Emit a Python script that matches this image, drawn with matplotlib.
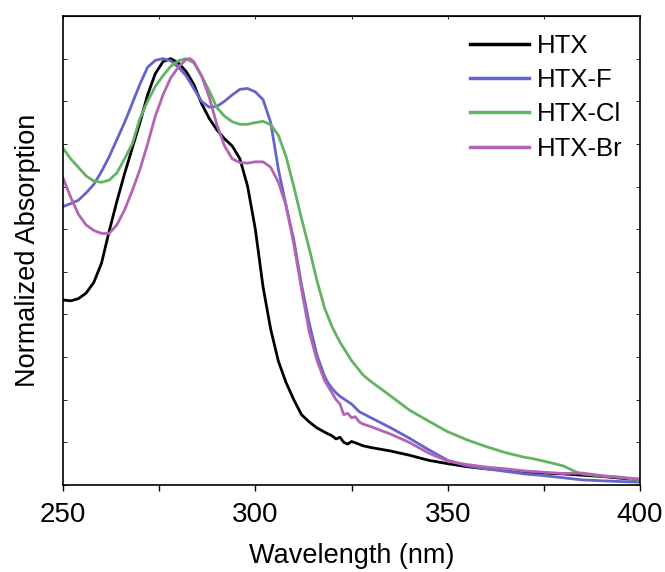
import matplotlib
matplotlib.use("Agg")
import matplotlib.pyplot as plt
import numpy as np

plt.rcParams['font.family'] = ['Liberation Sans', 'DejaVu Sans']

# ---- data (wavelength nm, normalized absorption) ----
htx_wl = [250, 252, 254, 256, 258, 260, 262, 264, 266, 268, 270, 272, 274, 276, 278, 280,
          282, 284, 286, 288, 290, 292, 294, 296, 298, 300, 302, 304, 306, 308, 310, 312,
          314, 316, 318, 320, 321, 322, 323, 324, 325, 326, 328, 330, 335, 340, 345, 350,
          355, 360, 365, 370, 375, 380, 385, 390, 395, 400]
htx_abs = [0.434, 0.432, 0.437, 0.45, 0.475, 0.52, 0.595, 0.665, 0.73, 0.79, 0.85, 0.915, 0.965, 0.993, 1.0, 0.99,
           0.97, 0.94, 0.895, 0.86, 0.833, 0.812, 0.795, 0.765, 0.70, 0.60, 0.465, 0.365, 0.29, 0.24, 0.20, 0.165,
           0.148, 0.134, 0.124, 0.115, 0.108, 0.112, 0.10, 0.096, 0.102, 0.099, 0.092, 0.088, 0.08, 0.07, 0.058, 0.05,
           0.043, 0.038, 0.035, 0.030, 0.028, 0.026, 0.023, 0.020, 0.016, 0.012]

f_wl = [250, 252, 254, 256, 258, 260, 262, 264, 266, 268, 270, 272, 274, 276, 278, 280,
        282, 284, 286, 288, 290, 292, 294, 296, 298, 300, 302, 304, 306, 308, 310, 312,
        314, 316, 318, 319, 320, 321, 322, 325, 327, 330, 335, 340, 345, 350, 355, 360, 365, 370, 375,
        380, 385, 390, 395, 400]
f_abs = [0.653, 0.66, 0.668, 0.685, 0.705, 0.735, 0.77, 0.81, 0.85, 0.895, 0.94, 0.98, 0.996, 1.0, 0.995, 0.98,
         0.96, 0.93, 0.90, 0.886, 0.888, 0.90, 0.915, 0.928, 0.93, 0.922, 0.904, 0.85, 0.74, 0.655, 0.575, 0.47,
         0.38, 0.305, 0.255, 0.238, 0.226, 0.216, 0.208, 0.19, 0.172, 0.158, 0.135, 0.11, 0.083, 0.058, 0.045, 0.038,
         0.032, 0.026, 0.022, 0.017, 0.012, 0.010, 0.008, 0.007]

cl_wl = [250, 252, 254, 256, 258, 260, 262, 264, 266, 268, 270, 272, 274, 276, 278, 280,
         282, 284, 286, 288, 290, 292, 294, 296, 298, 300, 302, 304, 306, 308, 310, 312,
         314, 316, 318, 320, 322, 325, 328, 330, 335, 340, 345, 350, 355, 360, 365, 370,
         372, 375, 380, 383, 385, 390, 395, 400]
cl_abs = [0.79, 0.765, 0.745, 0.725, 0.713, 0.71, 0.715, 0.732, 0.765, 0.80, 0.86, 0.90, 0.935, 0.96, 0.982, 0.995,
          1.0, 0.99, 0.96, 0.925, 0.885, 0.865, 0.852, 0.846, 0.846, 0.85, 0.853, 0.845, 0.82, 0.77, 0.70, 0.625,
          0.555, 0.48, 0.415, 0.37, 0.335, 0.292, 0.258, 0.243, 0.21, 0.176, 0.15, 0.125, 0.106, 0.09, 0.076, 0.065,
          0.062, 0.056, 0.045, 0.032, 0.026, 0.021, 0.018, 0.012]

br_wl = [250, 252, 254, 256, 258, 260, 262, 264, 266, 268, 270, 272, 274, 276, 278, 280,
         282, 283, 284, 286, 288, 290, 292, 294, 296, 298, 300, 302, 304, 306, 308, 310, 312,
         314, 316, 318, 320, 321, 322, 323, 324, 325, 326, 327, 328, 330, 335, 340, 345,
         350, 355, 360, 365, 370, 375, 380, 385, 390, 395, 400]
br_abs = [0.72, 0.675, 0.635, 0.61, 0.597, 0.59, 0.59, 0.61, 0.645, 0.69, 0.74, 0.80, 0.865, 0.915, 0.955, 0.98,
          0.998, 1.0, 0.993, 0.96, 0.91, 0.845, 0.795, 0.765, 0.756, 0.755, 0.758, 0.758, 0.745, 0.71, 0.655, 0.565, 0.46,
          0.36, 0.293, 0.245, 0.215, 0.20, 0.19, 0.165, 0.168, 0.158, 0.16, 0.148, 0.143, 0.137, 0.12, 0.10, 0.075,
          0.056, 0.048, 0.042, 0.038, 0.033, 0.030, 0.027, 0.028, 0.022, 0.018, 0.014]

series = [("HTX", htx_wl, htx_abs, "#000000"),
          ("HTX-F", f_wl, f_abs, "#6464cc"),
          ("HTX-Cl", cl_wl, cl_abs, "#62b462"),
          ("HTX-Br", br_wl, br_abs, "#b464b4")]

x_ticks = [250, 300, 350, 400]
x_minor = [275, 325, 375]

fig = plt.figure(figsize=(6.65, 5.72), dpi=100)
ax = fig.add_axes([63/665, 1-485/572, (640-63)/665, (485-16)/572])

for name, wl, ab, col in series:
    ax.plot(wl, ab, color=col, lw=2.0, label=name, solid_joinstyle='round')

ax.set_xlim(250, 400)
ax.set_ylim(0, 1.1)
ax.set_xticks(x_ticks)
ax.set_xticks(x_minor, minor=True)
ax.set_yticks(np.arange(0, 1.1001, 0.1))
ax.set_yticklabels([])
ax.tick_params(axis='x', which='both', direction='out', length=4, width=1.0,
               labelsize=20, pad=8, top=False)
ax.tick_params(axis='y', which='both', direction='in', length=3, width=0.6,
               left=True, right=True, labelleft=False)
for s in ax.spines.values():
    s.set_linewidth(1.2)

sec = ax.secondary_xaxis('top')
sec.set_xticks(x_ticks + x_minor)
sec.tick_params(direction='in', length=2, width=0.6, labeltop=False)
sec.set_xticklabels([])

ax.set_xlabel("Wavelength (nm)", fontsize=19.5, labelpad=11)
ax.set_ylabel("Normalized Absorption", fontsize=19.5, labelpad=16)

leg = ax.legend(loc='upper left', bbox_to_anchor=(0.705, 0.962), frameon=False,
                fontsize=18.5, handlelength=2.3, handletextpad=0.3, labelspacing=0.40,
                borderpad=0, borderaxespad=0)
for h in leg.get_lines():
    h.set_linewidth(2.5)

fig.savefig("out.png", dpi=100)
